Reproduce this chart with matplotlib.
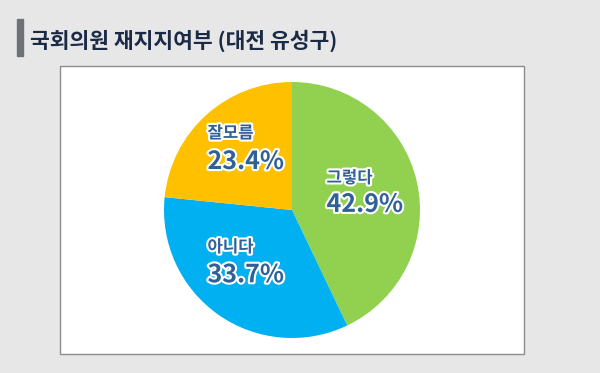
import matplotlib.pyplot as plt
import matplotlib.patheffects as pe
from matplotlib.patches import Rectangle

plt.rcParams['font.family'] = ['Noto Sans CJK KR', 'DejaVu Sans']

title = '국회의원 재지지여부 (대전 유성구)'
labels = ['그렇다', '아니다', '잘모름']
values = [42.9, 33.7, 23.4]
colors = ['#92d050', '#00b0f0', '#ffc000']
# left edge / name baseline-ish positions in pie units (radius = 1)
label_pos = [(0.27, 0.25, 0.04), (-0.66, -0.29, -0.51), (-0.66, 0.60, 0.375)]

W, H = 600, 373
fig = plt.figure(figsize=(6, 3.73), dpi=100)
fig.patch.set_facecolor('#e7e7e7')

# title bar and title
fig.patches.append(Rectangle((17 / W, 1 - 56 / H), 6 / W, 37 / H,
                             transform=fig.transFigure, color='#6d7278'))
fig.text(30 / W, 1 - 41 / H, title, fontsize=15.5, fontweight='heavy',
         color='#1c2b45', va='center', ha='left')

# white panel
fig.patches.append(Rectangle((60 / W, 1 - 354 / H), 464 / W, 288 / H,
                             transform=fig.transFigure, facecolor='white',
                             edgecolor='#8c8c8c', linewidth=1, zorder=0))

cx, cy, r = 292, 210, 128
ax = fig.add_axes([(cx - r) / W, (H - cy - r) / H, 2 * r / W, 2 * r / H])
ax.set_zorder(5)
ax.pie(values, colors=colors, startangle=90, counterclock=False, radius=1,
       wedgeprops=dict(linewidth=0))
ax.set_xlim(-1, 1)
ax.set_ylim(-1, 1)
ax.axis('off')

stroke = [pe.withStroke(linewidth=3, foreground='white')]
for lab, v, (x, y1, y2) in zip(labels, values, label_pos):
    ax.text(x, y1, lab, fontsize=12, fontweight='bold', color='#2f6198',
            ha='left', va='center', path_effects=stroke)
    ax.text(x, y2, '{:.1f}%'.format(v), fontsize=18, fontweight='bold',
            color='#2f6198', ha='left', va='center', path_effects=stroke)

fig.savefig('out.png', dpi=100, facecolor=fig.get_facecolor())
